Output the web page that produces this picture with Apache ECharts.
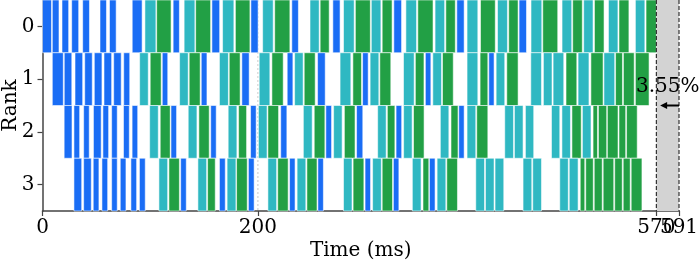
<!DOCTYPE html>
<html><head><meta charset="utf-8">
<script src="https://cdn.jsdelivr.net/npm/echarts@6/dist/echarts.min.js"></script>
<style>html,body{margin:0;padding:0;background:#fff}#c{width:699px;height:261px}</style>
</head><body><div id="c"></div>
<script>
// ---- data (ms) ----
const ranks = ['0', '1', '2', '3'];
const xTicks = [0, 200, 591];
const xTicksExtra = [570];
const gridLineAt = 200;
const makespan = 570;
const totalTime = 591;
const bubbleLabel = '3.55%';
const typeColors = { F: '#1a6df5', B: '#2fb8c2', W: '#22a045' };

const rank0 = [[0,8.4,'F'],[9.1,15.3,'F'],[18.1,24.3,'F'],[27.1,33.6,'F'],[37.3,43.6,'F'],[53.4,59.4,'F'],[62.2,68.4,'F'],[83.3,92.5,'F'],
 [95.1,105.3,'B'],[106.0,119.4,'W'],[121.3,127.1,'F'],[131.5,141.5,'B'],[142.2,156.1,'W'],[157.3,164.5,'F'],
 [167.2,177.7,'B'],[179.1,192.6,'W'],[193.5,200.2,'F'],[204.4,214.2,'B'],[215.6,229.7,'W'],[231.5,237.6,'F'],
 [248.4,256.9,'B'],[257.8,266.2,'W'],[269.6,276.3,'F'],[279.5,289.4,'B'],[290.5,304.4,'W'],[305.3,314.2,'B'],[315.4,324.6,'W'],[326.2,333.4,'F'],
 [337.4,347.3,'B'],[348.5,362.6,'W'],[364.5,373.4,'B'],[374.5,383.3,'W'],[384.7,391.5,'F'],
 [394.2,404.2,'B'],[406.7,420.4,'W'],[422.5,431.7,'B'],[432.9,441.6,'W'],[442.5,449.4,'F'],
 [453.6,463.6,'B'],[464.5,478.4,'W'],[482.4,491.4,'B'],[492.3,501.2,'W'],[502.5,511.2,'B'],[512.5,521.4,'W'],
 [525.5,534.3,'B'],[535.3,544.5,'W'],[550.5,559.3,'B'],[560.4,570,'W']];

const rank1 = [[9.1,19.3,'F'],[20.2,27.2,'F'],[30.2,37.3,'F'],[39.2,46.2,'F'],[48.1,55.2,'F'],[57.1,64.2,'F'],[66.1,73.1,'F'],[75.4,81.0,'F'],
 [90.2,98.2,'B'],[100.0,110.2,'W'],[111.2,116.3,'F'],[127.3,135.3,'B'],[136.2,146.4,'W'],[147.4,152.7,'F'],
 [164.3,172.6,'B'],[173.4,183.5,'W'],[185.1,191.9,'F'],[201.2,211.1,'B'],[213.0,223.5,'W'],[227.2,232.5,'F'],
 [234.1,242.0,'B'],[243.0,253.2,'W'],[255.4,262.5,'F'],[276.3,286.3,'B'],[288.2,296.2,'W'],[297.2,302.4,'F'],
 [304.2,312.3,'B'],[313.2,323.4,'W'],[335.2,345.1,'B'],[346.2,354.2,'W'],[355.5,360.6,'F'],[362.4,370.5,'B'],[371.4,381.4,'W'],
 [394.2,404.2,'B'],[406.3,413.5,'W'],[414.4,419.3,'F'],[421.2,429.2,'B'],[431.1,441.6,'W'],
 [453.4,463.3,'B'],[465.1,473.1,'B'],[474.1,484.0,'B'],[486.1,496.1,'W'],[497.3,507.4,'B'],[509.2,520.5,'W'],
 [521.3,531.3,'B'],[532.1,538.5,'W'],[539.4,549.4,'W'],[550.5,563.2,'W']];

const rank2 = [[20.1,27.4,'F'],[29.2,34.5,'F'],[38.2,43.4,'F'],[47.3,54.5,'F'],[56.1,61.4,'F'],[64.2,69.4,'F'],[75.2,80.6,'F'],[83.2,88.4,'F'],
 [99.5,107.5,'B'],[109.3,118.6,'W'],[119.3,124.5,'F'],[135.3,143.4,'B'],[145.2,154.8,'W'],[156.2,161.3,'F'],
 [172.4,180.5,'B'],[182.1,189.5,'W'],[193.2,198.4,'F'],[200.5,208.5,'B'],[209.3,219.2,'W'],[221.2,226.9,'F'],
 [242.2,250.4,'B'],[252.3,262.2,'W'],[263.1,268.4,'F'],[270.3,278.2,'B'],[280.3,290.2,'W'],[291.6,297.4,'F'],
 [311.2,319.1,'B'],[320.2,327.2,'W'],[328.3,333.5,'F'],[335.3,343.2,'B'],[344.5,354.3,'W'],
 [369.4,377.3,'B'],[379.3,385.8,'W'],[386.5,391.5,'F'],[394.2,402.3,'B'],[403.2,413.5,'W'],
 [429.2,437.3,'B'],[438.2,446.2,'B'],[448.4,456.1,'B'],[472.6,480.3,'B'],[482.3,490.2,'B'],[491.6,500.2,'W'],
 [501.3,509.3,'B'],[511.2,515.3,'W'],[516.2,523.9,'W'],[524.5,534.4,'W'],[535.3,541.5,'W'],[542.3,552.2,'W']];

const rank3 = [[29.2,36.4,'F'],[38.2,45.3,'F'],[47.1,52.4,'F'],[55.2,60.5,'F'],[64.2,69.4,'F'],[72.2,77.5,'F'],[82.1,87.4,'F'],[90.0,95.4,'F'],
 [108.1,116.2,'B'],[117.4,127.1,'W'],[128.3,133.5,'F'],[144.3,152.4,'B'],[153.3,160.4,'W'],[164.3,169.7,'F'],
 [171.4,179.6,'B'],[180.2,190.1,'W'],[191.2,196.5,'F'],[209.3,217.4,'B'],[218.4,228.1,'W'],[229.4,234.5,'F'],
 [236.4,244.5,'B'],[245.5,254.9,'W'],[255.7,260.8,'F'],[279.5,287.4,'B'],[288.4,298.4,'W'],[299.5,304.6,'F'],
 [306.5,314.6,'B'],[315.4,325.0,'W'],[325.8,330.9,'F'],[343.4,351.5,'B'],[353.3,358.7,'W'],[359.3,364.5,'F'],
 [366.4,374.5,'B'],[375.4,385.3,'W'],[402.3,410.4,'B'],[411.3,419.3,'B'],[420.2,428.3,'B'],
 [446.2,454.3,'B'],[455.2,463.3,'B'],[480.3,488.2,'B'],[489.1,497.3,'B'],[499.3,503.5,'W'],[504.4,511.4,'W'],
 [512.3,519.7,'W'],[520.6,530.4,'W'],[531.3,538.3,'W'],[539.2,545.7,'W'],[546.6,556.6,'W']];

// label / arrow placement (in data units)
const labelY = 1.15;
const arrowY = 1.5;
const arrowTipX = 573.5;

// ---- build ----
const typeIndex = { F: 0, B: 1, W: 2 };
const colorList = [typeColors.F, typeColors.B, typeColors.W];
const barData = [];
[rank0, rank1, rank2, rank3].forEach((rows, r) => {
  rows.forEach(d => barData.push([r, d[0], d[1], typeIndex[d[2]]]));
});

const FONT = 'DejaVu Serif';
const chart = echarts.init(document.getElementById('c'), null, { renderer: 'canvas' });

const labelStyle = { fontFamily: FONT, fontSize: 20, color: '#000', margin: 7, hideOverlap: false };
chart.setOption({
  animation: false,
  grid: { left: 42.5, right: 20, top: 0, bottom: 50, containLabel: false, outerBoundsMode: 'none' },
  xAxis: [{
    type: 'value', min: 0, max: totalTime,
    name: 'Time (ms)', nameLocation: 'middle', nameGap: 30, nameMoveOverlap: false,
    nameTextStyle: { fontFamily: FONT, fontSize: 20, color: '#000' },
    axisLine: { show: true, onZero: false, lineStyle: { color: '#444', width: 1.5 } },
    axisTick: { show: true, length: 5, customValues: xTicks, lineStyle: { color: '#444', width: 1.2 } },
    axisLabel: Object.assign({ customValues: xTicks, showMinLabel: true, showMaxLabel: true }, labelStyle),
    splitLine: { show: false }
  }, {
    type: 'value', min: 0, max: totalTime, position: 'bottom', offset: 0,
    axisLine: { show: false, onZero: false },
    axisTick: { show: true, length: 5, customValues: xTicksExtra, lineStyle: { color: '#444', width: 1.2 } },
    axisLabel: Object.assign({ customValues: xTicksExtra, showMinLabel: true, showMaxLabel: true }, labelStyle),
    splitLine: { show: false }
  }],
  yAxis: {
    type: 'value', min: -0.5, max: 3.5, inverse: true,
    name: 'Rank', nameLocation: 'middle', nameGap: 22, nameRotate: 90, nameMoveOverlap: false,
    nameTextStyle: { fontFamily: FONT, fontSize: 20, color: '#000' },
    axisLine: { show: true, onZero: false, lineStyle: { color: '#444', width: 1.5 } },
    axisTick: { show: true, length: 5, customValues: [0, 1, 2, 3], lineStyle: { color: '#444', width: 1.2 } },
    axisLabel: { customValues: [0, 1, 2, 3], formatter: v => ranks[v], fontFamily: FONT, fontSize: 20, color: '#000', margin: 8 },
    splitLine: { show: false }
  },
  series: [
    {
      type: 'custom', z: 1, silent: true, data: [[gridLineAt]],
      renderItem: (params, api) => {
        const a = api.coord([gridLineAt, -0.5]), b = api.coord([gridLineAt, 3.5]);
        return { type: 'line', shape: { x1: a[0], y1: a[1], x2: b[0], y2: b[1] },
          style: { stroke: '#c8c8c8', lineWidth: 1, lineDash: [2, 2] } };
      }
    },
    {
      type: 'custom', z: 2, data: barData,
      encode: { x: [1, 2], y: 0 },
      renderItem: (params, api) => {
        const r = api.value(0), s = api.value(1), e = api.value(2), k = api.value(3);
        const p0 = api.coord([s, r - 0.5]);
        const p1 = api.coord([e, r + 0.5]);
        return {
          type: 'rect',
          shape: { x: p0[0], y: Math.min(p0[1], p1[1]), width: p1[0] - p0[0], height: Math.abs(p1[1] - p0[1]) },
          style: { fill: colorList[k], stroke: 'rgba(255,255,255,0.55)', lineWidth: 1 }
        };
      }
    },
    {
      type: 'custom', z: 3, silent: true, data: [[makespan, totalTime]],
      renderItem: (params, api) => {
        const tl = api.coord([makespan, -0.5]);
        const br = api.coord([totalTime, 3.5]);
        const lbl = api.coord([(makespan + totalTime) / 2, labelY]);
        const aT = api.coord([totalTime, arrowY]);
        const aH = api.coord([arrowTipX, arrowY]);
        return {
          type: 'group',
          children: [
            { type: 'rect', shape: { x: tl[0], y: tl[1], width: br[0] - tl[0], height: br[1] - tl[1] }, style: { fill: '#d3d3d3' } },
            { type: 'line', shape: { x1: tl[0], y1: tl[1], x2: tl[0], y2: br[1] }, style: { stroke: '#333', lineWidth: 1.2, lineDash: [4, 2] } },
            { type: 'line', shape: { x1: br[0], y1: tl[1], x2: br[0], y2: br[1] }, style: { stroke: '#333', lineWidth: 1.2, lineDash: [4, 2] } },
            { type: 'line', shape: { x1: aT[0], y1: aT[1], x2: aH[0] + 5, y2: aH[1] }, style: { stroke: '#000', lineWidth: 2 } },
            { type: 'polygon', shape: { points: [[aH[0], aH[1]], [aH[0] + 7, aH[1] - 3.5], [aH[0] + 7, aH[1] + 3.5]] }, style: { fill: '#000' } },
            { type: 'text', x: lbl[0], y: lbl[1], style: { text: bubbleLabel, fontFamily: FONT, fontSize: 20, fill: '#000', align: 'center', verticalAlign: 'middle' } }
          ]
        };
      }
    }
  ]
});
</script>
</body></html>
